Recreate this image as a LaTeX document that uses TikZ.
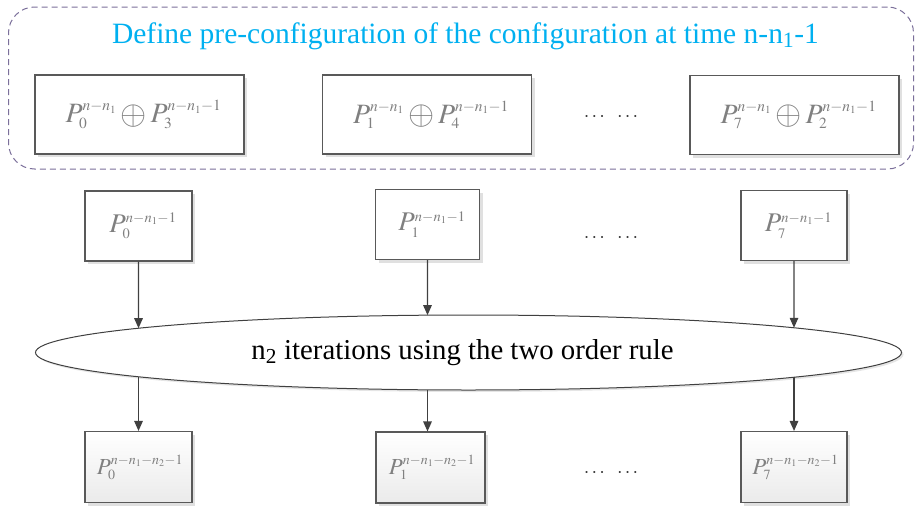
\documentclass[tikz,border=0pt]{standalone}
\usepackage{mathptmx}
\usepackage{graphicx}
\usepackage[no-math]{fontspec}
\setmainfont{Liberation Serif}
\newfontfamily\tnr{Liberation Serif}
\DeclareMathSizes{28}{28}{15.5}{11}
\DeclareMathSizes{27}{27}{14.5}{10.5}
\DeclareMathSizes{23}{23}{14}{10}
\newcommand{\bigop}{\mathbin{\raisebox{-1.4pt}{\scalebox{1.2}{$\oplus$}}}}
\usetikzlibrary{shapes.geometric,arrows.meta,shadows,intersections}
\definecolor{ttl}{HTML}{00B0F0}
\definecolor{mgray}{HTML}{808080}
\definecolor{bord}{HTML}{595959}
\definecolor{dashc}{HTML}{7B6F9A}
\definecolor{arrc}{HTML}{404040}
\begin{document}
\begin{tikzpicture}[x=1pt,y=-1pt,
  pbox/.style={draw=bord, line width=1.1pt, fill=white, inner sep=0pt, text=mgray,
    drop shadow={shadow xshift=3pt, shadow yshift=-3pt, fill=black!12, opacity=1}},
  topbox/.style={pbox, minimum width=209pt, minimum height=79pt, font=\tnr\fontsize{28}{34}\selectfont},
  midbox/.style={pbox, minimum height=70pt, font=\tnr\fontsize{27}{32}\selectfont},
  botbox/.style={pbox, minimum height=71pt, top color=white, bottom color=black!8, font=\tnr\fontsize{23}{28}\selectfont},
  arr/.style={draw=arrc, line width=1.4pt, -{Triangle[length=10pt,width=8.5pt]}},
  dots/.style={font=\fontsize{20}{24}\selectfont, text=black!80}
]
\useasboundingbox (0,0) rectangle (915,506);

% group frame
\node[draw=dashc, line width=1pt, dash pattern=on 6pt off 4pt, rounded corners=26pt,
      minimum width=905pt, minimum height=162pt, inner sep=0pt] (grp) at (461,88) {};
\node[text=ttl, font=\tnr\fontsize{29.5}{34}\selectfont, inner sep=0pt] (title) at (465.5,36)
  {Define pre-configuration of the configuration at time n-n\textsubscript{1}-1};

% top boxes
\node[topbox] (t0) at (139.5,114.5) {\hspace*{8pt}$P_0^{n-n_1}\bigop P_3^{n-n_1-1}$};
\node[topbox] (t1) at (427,114.5) {\hspace*{8pt}$P_1^{n-n_1}\bigop P_4^{n-n_1-1}$};
\node[topbox] (t7) at (794.5,115) {\hspace*{8pt}$P_7^{n-n_1}\bigop P_2^{n-n_1-1}$};
\node[dots] (d1) at (611,117) {$\cdots\ \ \cdots$};

% middle boxes
\node[midbox, minimum width=107pt] (m0) at (138.5,226) {\hspace*{9pt}$P_0^{n-n_1-1}$};
\node[midbox, minimum width=104pt] (m1) at (427.5,224.5) {\hspace*{9pt}$P_1^{n-n_1-1}$};
\node[midbox, minimum width=106pt] (m7) at (794,225.5) {\hspace*{9pt}$P_7^{n-n_1-1}$};
\node[dots] (d2) at (611,238) {$\cdots\ \ \cdots$};

% ellipse
\node[ellipse, draw=black!75, line width=1pt, fill=white, minimum width=866pt, minimum height=75pt,
      inner sep=0pt, name path=ellp,
      drop shadow={shadow xshift=2pt, shadow yshift=-2pt, fill=black!10, opacity=1},
      font=\tnr\fontsize{28.8}{32}\selectfont] (ell) at (468.5,352.5)
  {\hspace*{-12pt}n\textsubscript{2} iterations using the two order rule};

% bottom boxes
\node[botbox, minimum width=107pt] (b0) at (138.5,467) {\hspace*{3pt}$P_0^{n-n_1-n_2-1}$};
\node[botbox, minimum width=109pt] (b1) at (430.5,467.5) {\hspace*{3pt}$P_1^{n-n_1-n_2-1}$};
\node[botbox, minimum width=106pt] (b7) at (794,467) {\hspace*{3pt}$P_7^{n-n_1-n_2-1}$};
\node[dots] (d3) at (611,473) {$\cdots\ \ \cdots$};

% arrows
\path[name path=va] (m0.south) -- ++(0,200);
\path[name path=vb] (m1.south) -- ++(0,200);
\path[name path=vc] (m7.south) -- ++(0,200);
\path[name intersections={of=va and ellp, sort by=va, by={ia,ja}}];
\path[name intersections={of=vb and ellp, sort by=vb, by={ib,jb}}];
\path[name intersections={of=vc and ellp, sort by=vc, by={ic,jc}}];
\draw[arr] (m0.south) -- (ia);
\draw[arr] (m1.south) -- (ib);
\draw[arr] (m7.south) -- (ic);
\draw[arr] (ja) -- (ja |- b0.north);
\draw[arr] (jb) -- (jb |- b1.north);
\draw[arr] (jc) -- (jc |- b7.north);
\end{tikzpicture}
\end{document}
